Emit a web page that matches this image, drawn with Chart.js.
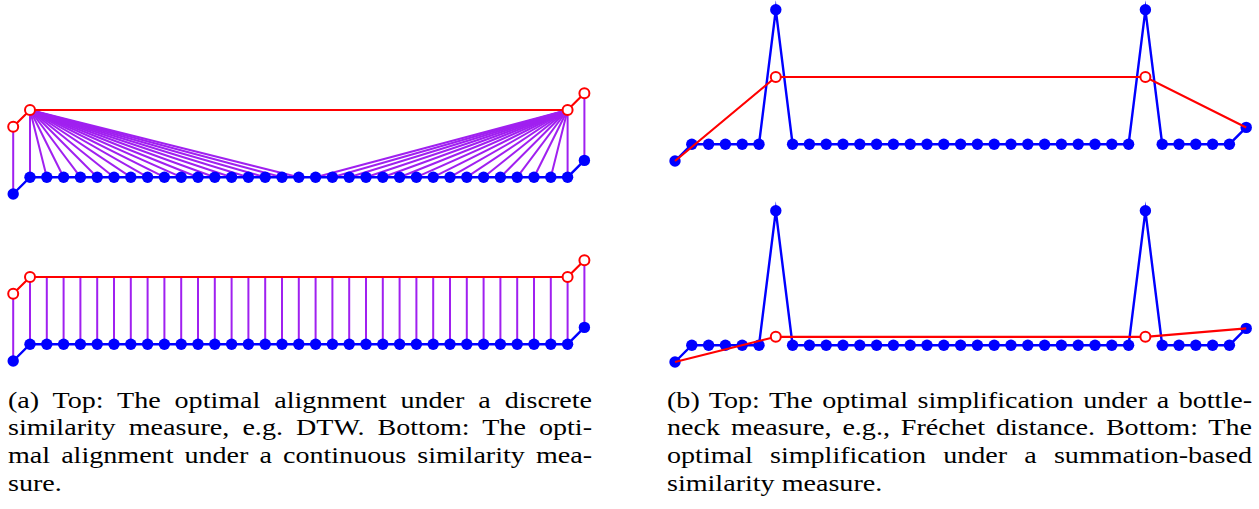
<!DOCTYPE html>
<html>
<head>
<meta charset="utf-8">
<script src="https://cdn.jsdelivr.net/npm/chart.js@4"></script>
<style>
  html, body { margin: 0; padding: 0; background: #fff; }
  #page { position: relative; width: 1259px; height: 509px; overflow: hidden; }
  canvas { position: absolute; }
  .caption { position: absolute; font-family: "Liberation Serif", "Times New Roman", serif; font-size: 24px; line-height: 27.8px; color: #000; transform: scaleX(1.17); transform-origin: 0 0; }
  .caption div { white-space: nowrap; text-align: justify; text-align-last: justify; }
  .caption div.last { text-align-last: left; }
</style>
</head>
<body>
<div id="page">
  <canvas id="aTop" width="610" height="130"></canvas>
  <canvas id="aBottom" width="610" height="130"></canvas>
  <canvas id="bTop" width="610" height="180"></canvas>
  <canvas id="bBottom" width="610" height="175"></canvas>

  <div class="caption" id="capA">
    <div>(a) Top: The optimal alignment under a discrete</div>
    <div>similarity measure, e.g. DTW. Bottom: The opti-</div>
    <div>mal alignment under a continuous similarity mea-</div>
    <div class="last">sure.</div>
  </div>
  <div class="caption" id="capB">
    <div>(b) Top: The optimal simplification under a bottle-</div>
    <div>neck measure, e.g., Fréchet distance. Bottom: The</div>
    <div>optimal simplification under a summation-based</div>
    <div class="last">similarity measure.</div>
  </div>
</div>
<script>
// vertex positions of the sampled curve (both panels use 35 vertices)
const vertexX = [0, 1, 2, 3, 4, 5, 6, 7, 8, 9, 10, 11, 12, 13, 14, 15, 16, 17,
    18, 19, 20, 21, 22, 23, 24, 25, 26, 27, 28, 29, 30, 31, 32, 33, 34];

// (a) blue curve and red curve
const blueA = [0, 1, 1, 1, 1, 1, 1, 1, 1, 1, 1, 1, 1, 1, 1, 1, 1, 1,
    1, 1, 1, 1, 1, 1, 1, 1, 1, 1, 1, 1, 1, 1, 1, 1, 2];
const redAX = [0, 1, 33, 34];
const redAY = [4, 5, 5, 6];

// (a) top: discrete matching, [red vertex, blue vertex]
const discreteMatch = [
    [0, 0], [1, 1], [1, 2], [1, 3], [1, 4], [1, 5], [1, 6], [1, 7], [1, 8], [1, 9],
    [1, 10], [1, 11], [1, 12], [1, 13], [1, 14], [1, 15], [1, 16], [1, 17],
    [2, 18], [2, 19], [2, 20], [2, 21], [2, 22], [2, 23], [2, 24], [2, 25], [2, 26],
    [2, 27], [2, 28], [2, 29], [2, 30], [2, 31], [2, 32], [2, 33], [3, 34]
];

// (a) bottom: continuous matching, height on the red curve above each blue vertex
const continuousMatchY = [4, 5, 5, 5, 5, 5, 5, 5, 5, 5, 5, 5, 5, 5, 5, 5, 5, 5,
    5, 5, 5, 5, 5, 5, 5, 5, 5, 5, 5, 5, 5, 5, 5, 5, 6];

// (b) blue curve with two spikes and its two simplifications
const blueB = [0, 1, 1, 1, 1, 1, 9, 1, 1, 1, 1, 1, 1, 1, 1, 1, 1, 1,
    1, 1, 1, 1, 1, 1, 1, 1, 1, 1, 9, 1, 1, 1, 1, 1, 2];
const redBX = [0, 6, 28, 34];
const redBTopY = [0, 5, 5, 2];
const redBBottomY = [0, 1.5, 1.5, 2];

const UNIT = 16.8;
const BLUE = "#0000ff";
const RED = "#ff0000";
const PURPLE = "#a020f0";

function points(xs, ys) {
    return xs.map((x, i) => ({ x: x, y: ys[i] }));
}

function blueCurve(ys) {
    return {
        data: points(vertexX, ys),
        showLine: true,
        borderColor: BLUE,
        borderWidth: 2.4,
        pointRadius: 5.7,
        pointBackgroundColor: BLUE,
        pointBorderWidth: 0,
        order: 1,
        clip: false
    };
}

function redCurve(xs, ys, radius) {
    return {
        data: points(xs, ys),
        showLine: true,
        borderColor: RED,
        borderWidth: 2.2,
        pointRadius: radius,
        pointBackgroundColor: "#ffffff",
        pointBorderColor: RED,
        pointBorderWidth: 2,
        order: 0,
        clip: false
    };
}

function link(x1, y1, x2, y2) {
    return {
        data: [{ x: x1, y: y1 }, { x: x2, y: y2 }],
        showLine: true,
        borderColor: PURPLE,
        borderWidth: 2,
        pointRadius: 0,
        order: 2,
        clip: false
    };
}

function renderPanel(canvasId, frame, originX, originY, datasets) {
    const canvas = document.getElementById(canvasId);
    canvas.style.left = frame.left + "px";
    canvas.style.top = frame.top + "px";

    new Chart(canvas, {
        type: "scatter",
        data: { datasets: datasets },
        options: {
            responsive: false,
            animation: false,
            events: [],
            layout: { padding: 0, autoPadding: false },
            plugins: {
                legend: { display: false },
                tooltip: { enabled: false }
            },
            scales: {
                x: {
                    type: "linear",
                    display: false,
                    min: (frame.left - originX) / UNIT,
                    max: (frame.left + canvas.width - originX) / UNIT
                },
                y: {
                    type: "linear",
                    display: false,
                    min: (originY - frame.top - canvas.height) / UNIT,
                    max: (originY - frame.top) / UNIT
                }
            }
        }
    });
}

// (a) top
const discreteLinks = discreteMatch.map(([r, b]) =>
    link(redAX[r], redAY[r], vertexX[b], blueA[b]));
renderPanel("aTop", { left: 0, top: 75 }, 13.2, 194,
    [redCurve(redAX, redAY, 5), blueCurve(blueA), ...discreteLinks]);

// (a) bottom
const continuousLinks = vertexX.map((x, i) => link(x, continuousMatchY[i], x, blueA[i]));
renderPanel("aBottom", { left: 0, top: 245 }, 13.2, 361,
    [redCurve(redAX, redAY, 5), blueCurve(blueA), ...continuousLinks]);

// (b) top and bottom
renderPanel("bTop", { left: 649, top: 0 }, 675, 161,
    [redCurve(redBX, redBTopY, [0, 5, 5, 0]), blueCurve(blueB)]);
renderPanel("bBottom", { left: 649, top: 195 }, 675, 362,
    [redCurve(redBX, redBBottomY, [0, 5, 5, 0]), blueCurve(blueB)]);

// captions (box width is divided by the horizontal stretch)
const stretch = 1.17;
const capA = document.getElementById("capA");
capA.style.left = "8px";
capA.style.top = "386.5px";
capA.style.width = (584 / stretch) + "px";
const capB = document.getElementById("capB");
capB.style.left = "667px";
capB.style.top = "386.5px";
capB.style.width = (585 / stretch) + "px";
</script>
</body>
</html>
